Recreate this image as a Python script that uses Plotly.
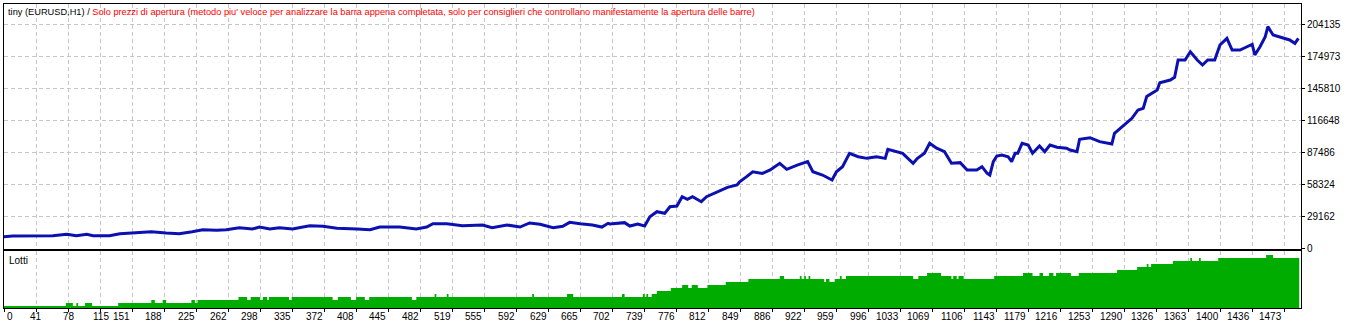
import plotly.graph_objects as go

# ---------------- data ----------------
BAL_T = [0, 14, 60, 76, 87, 99, 106, 125, 137, 156, 173, 190, 205, 220, 232, 248, 259, 274,
         289, 297, 309, 320, 335, 347, 355, 370, 386, 409, 424, 435, 458, 477, 489, 496, 512,
         530, 553, 564, 581, 596, 607, 619, 634, 645, 653, 665, 679, 690, 697, 699, 716, 722,
         731, 739, 745, 753, 762, 768, 776, 782, 788, 794, 804, 810, 823, 834, 845, 848, 856,
         863, 874, 883, 894, 902, 914, 926, 932, 943, 954, 959, 966, 974, 984, 994, 1005, 1015,
         1018, 1028, 1035, 1047, 1052, 1060, 1066, 1074, 1083, 1091, 1101, 1109, 1120, 1126,
         1132, 1135, 1137, 1139, 1143, 1149, 1156, 1160, 1164, 1167, 1172, 1179, 1184, 1192,
         1198, 1204, 1212, 1223, 1227, 1235, 1238, 1250, 1261, 1275, 1278, 1288, 1298, 1305,
         1311, 1315, 1327, 1330, 1342, 1347, 1351, 1359, 1365, 1373, 1379, 1385, 1393, 1399,
         1407, 1413, 1422, 1430, 1436, 1439, 1445, 1451, 1454, 1460, 1468, 1479, 1485, 1489]
BAL_V = [10000, 10900, 11200, 12500, 11200, 12500, 11200, 11200, 13000, 13700, 14900, 13700,
         13000, 14900, 16700, 16100, 16700, 18500, 17300, 19100, 17300, 18500, 17300, 19100,
         20300, 19800, 18000, 17300, 16700, 19100, 19100, 17300, 19100, 22100, 22100, 20300,
         21000, 18500, 21000, 19100, 22800, 21600, 18500, 19800, 23400, 22100, 21000, 19100,
         22500, 21900, 23100, 20000, 21900, 20000, 28500, 33100, 31600, 37600, 38300, 46800,
         44300, 46800, 42200, 46800, 51300, 55300, 57400, 60400, 65000, 69500, 68000, 71100,
         77200, 71700, 75600, 78700, 69500, 66500, 62000, 69500, 74100, 86300, 83200, 81700,
         83200, 81700, 89900, 87800, 86300, 77200, 81700, 86300, 95400, 90900, 87800, 77200,
         77800, 71100, 71100, 74100, 68000, 66500, 72600, 78700, 83800, 84800, 83200, 78700,
         86300, 86300, 95400, 93900, 86300, 93000, 87800, 93900, 91800, 90900, 89300, 87800,
         99100, 100500, 96900, 94800, 104500, 111200, 118200, 125800, 127300, 138100, 144000,
         150600, 153100, 155600, 171300, 171300, 178900, 171300, 166800, 171300, 171300,
         185000, 191100, 180400, 180400, 183400, 185600, 175900, 183400, 192600, 201700,
         194100, 192000, 189600, 186500, 191100]

LOT_T = [0, 75, 83, 87, 89, 97, 105, 135, 173, 177, 186, 190, 219, 223, 226, 273, 283, 287,
         298, 301, 306, 308, 331, 334, 381, 387, 402, 408, 418, 423, 472, 477, 498, 500, 512,
         514, 610, 612, 650, 657, 713, 716, 737, 739, 741, 743, 747, 753, 769, 782, 789, 793,
         800, 811, 832, 858, 894, 899, 917, 919, 922, 924, 927, 929, 945, 947, 951, 957, 963,
         965, 970, 1047, 1053, 1063, 1079, 1091, 1093, 1097, 1099, 1105, 1140, 1173, 1184,
         1192, 1196, 1203, 1208, 1211, 1228, 1237, 1281, 1304, 1315, 1317, 1320, 1345, 1365,
         1367, 1375, 1377, 1397, 1452, 1460, 1490]
LOT_V = [0.1, 0.2, 0.1, 0.2, 0.1, 0.2, 0.1, 0.2, 0.3, 0.2, 0.3, 0.2, 0.3, 0.2, 0.3, 0.4,
         0.3, 0.4, 0.3, 0.4, 0.3, 0.4, 0.3, 0.4, 0.3, 0.4, 0.3, 0.4, 0.3, 0.4, 0.3, 0.4, 0.5,
         0.4, 0.5, 0.4, 0.5, 0.4, 0.5, 0.4, 0.5, 0.4, 0.5, 0.4, 0.5, 0.4, 0.5, 0.6, 0.7, 0.8,
         0.7, 0.8, 0.7, 0.8, 0.9, 1.0, 1.1, 1.0, 1.1, 1.0, 1.1, 1.0, 1.1, 1.0, 0.9, 1.0, 0.9,
         1.0, 1.1, 1.0, 1.1, 1.0, 1.1, 1.2, 1.1, 1.0, 1.1, 1.0, 1.1, 1.0, 1.1, 1.2, 1.1, 1.2,
         1.1, 1.2, 1.1, 1.2, 1.1, 1.2, 1.3, 1.4, 1.5, 1.4, 1.5, 1.6, 1.7, 1.6, 1.7, 1.6, 1.7,
         1.8, 1.7, 1.7]

X_TICK_VALS = [4, 41, 78, 115, 151, 188, 225, 262, 298, 335, 372, 408, 445, 482, 519, 555,
               592, 629, 665, 702, 739, 776, 812, 849, 886, 922, 959, 996, 1033, 1069, 1106,
               1143, 1179, 1216, 1253, 1290, 1326, 1363, 1400, 1436, 1473]
X_TICK_TEXT = ["0"] + [str(v) for v in X_TICK_VALS[1:]]
Y_TICKS = [0, 29162, 58324, 87486, 116648, 145810, 174973, 204135]

TITLE_BLACK = "tiny (EURUSD,H1) / "
TITLE_RED = ("Solo prezzi di apertura (metodo piu' veloce per analizzare la barra appena "
             "completata, solo per consiglieri che controllano manifestamente la apertura delle barre)")
LOT_LABEL = "Lotti"

# ---------------- styling / layout ----------------
W, H = 1346, 326
ML, MR, MT, MB = 4, 45, 4, 18
PH = H - MT - MB
MAIN_BOTTOM = (H - MB - 249) / PH
LOT_TOP = (H - MB - 251) / PH
FONT = "Liberation Sans, Arial, sans-serif"
BLUE = "#0C10B0"
GREEN = "#00AC00"
GRID = "#C6C6C6"

fig = go.Figure()
fig.add_trace(go.Scatter(x=LOT_T, y=LOT_V, mode="lines", line=dict(shape="hv", width=0, color=GREEN),
                         fill="tozeroy", fillcolor=GREEN, xaxis="x", yaxis="y", hoverinfo="skip"))
fig.add_trace(go.Scatter(x=BAL_T, y=BAL_V, mode="lines", line=dict(width=3, color=BLUE),
                         xaxis="x2", yaxis="y2"))

x_common = dict(range=[4, 1492], tickvals=X_TICK_VALS, showgrid=True, gridcolor=GRID,
                griddash="4px,3px", gridwidth=1, showline=True, linecolor="black", linewidth=1,
                mirror=True, zeroline=False, automargin=False)

fig.update_layout(
    width=W, height=H, margin=dict(l=ML, r=MR, t=MT, b=MB, autoexpand=False),
    paper_bgcolor="white", plot_bgcolor="white", showlegend=False,
    font=dict(family=FONT, size=10, color="black"),
    xaxis=dict(**x_common, showticklabels=False, ticks="outside", ticklen=3, tickcolor="black"),
    xaxis2=dict(**x_common, matches="x", showticklabels=False, ticks="", anchor="y2"),
    yaxis=dict(domain=[0, LOT_TOP], range=[0.1 / 3, 0.1 / 3 + (LOT_TOP * PH) / 30],
               showgrid=False, showticklabels=False, ticks="", showline=True, linecolor="black",
               linewidth=1, mirror=True, zeroline=False, automargin=False),
    yaxis2=dict(domain=[MAIN_BOTTOM, 1], range=[-911, -911 + 245 * 911.3], tickvals=Y_TICKS,
                tickformat="d", side="right", ticks="outside", ticklen=3, tickcolor="black",
                showgrid=True, gridcolor=GRID, griddash="4px,3px", showline=True,
                linecolor="black", linewidth=1, mirror=True, zeroline=False, automargin=False,
                tickfont=dict(family=FONT, size=10), anchor="x2"),
)

anns = [
    dict(text=TITLE_BLACK + "<span style='color:#FF0000'>" + TITLE_RED + "</span>",
         xref="paper", yref="paper", x=0, y=1, xanchor="left", yanchor="middle",
         xshift=2, yshift=-8, showarrow=False, font=dict(family=FONT, size=9.25)),
    dict(text=LOT_LABEL, xref="paper", yref="paper", x=0, y=LOT_TOP, xanchor="left",
         yanchor="middle", xshift=3, yshift=-9, showarrow=False, font=dict(family=FONT, size=10)),
]
for i, (v, t) in enumerate(zip(X_TICK_VALS, X_TICK_TEXT)):
    anchor = "left" if i == 0 else ("center" if i < 4 else "right")
    anns.append(dict(text=t, xref="x", yref="paper", x=v, y=0, xanchor=anchor,
                     yanchor="middle", yshift=-8, xshift=(1 if i == 0 else 0),
                     showarrow=False, font=dict(family=FONT, size=10)))
fig.update_layout(annotations=anns)

fig.write_html("out.html")
